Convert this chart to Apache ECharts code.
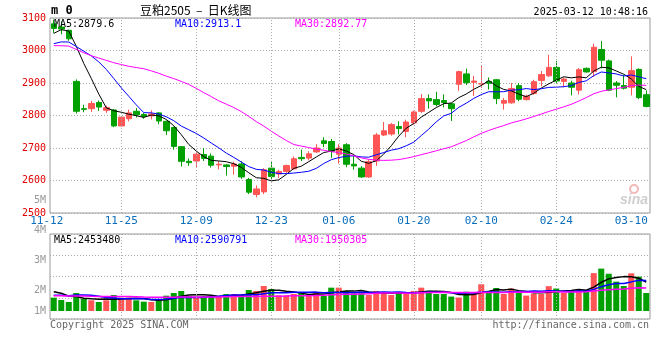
<!DOCTYPE html>
<html><head><meta charset="utf-8">
<script src="https://cdn.jsdelivr.net/npm/echarts@6/dist/echarts.min.js"></script>
<style>html,body{margin:0;padding:0;background:#fff}#c{width:660px;height:360px}</style>
</head><body><div id="c"></div>
<script>
// ---- data ----
const dates = ['11-12','11-13','11-14','11-15','11-18','11-19','11-20','11-21','11-22','11-25','11-26','11-27','11-28','11-29',
'12-02','12-03','12-04','12-05','12-06','12-09','12-10','12-11','12-12','12-13','12-16','12-17','12-18','12-19','12-20','12-23','12-24','12-25','12-26','12-27','12-30','12-31',
'01-02','01-03','01-06','01-07','01-08','01-09','01-10','01-13','01-14','01-15','01-16','01-17','01-20','01-21','01-22','01-23','01-24','01-27',
'02-05','02-06','02-07','02-10','02-11','02-12','02-13','02-14','02-17','02-18','02-19','02-20','02-21','02-24','02-25','02-26','02-27','02-28',
'03-03','03-04','03-05','03-06','03-07','03-10','03-11','03-12'];
const tickLabels = ['11-12','11-25','12-09','12-23','01-06','01-20','02-10','02-24','03-10'];
const gridDates = ['11-25','12-09','12-23','01-06','01-20','02-10','02-24'];
const opens = [3082,3072,3062,2905,2821,2821,2840,2816,2817,2768,2790,2813,2803,2799,2808,2782,2763,2704,2659,2660,
2680,2675,2648,2648,2644,2651,2603,2557,2565,2638,2620,2628,2636,2671,2669,2688,2722,2720,2681,2710,
2650,2638,2611,2660,2740,2743,2766,2751,2777,2813,2852,2849,2846,2836,2896,2928,2902,2897,2905,2910,
2838,2839,2892,2849,2868,2908,2922,2948,2905,2900,2878,2945,2935,3003,2968,2900,2892,2887,2942,2864];
const closes = [3068,3066,3036,2813,2819,2837,2826,2824,2768,2795,2808,2802,2797,2805,2783,2753,2705,2659,2655,2681,
2668,2647,2650,2643,2651,2611,2564,2574,2633,2612,2628,2646,2667,2667,2682,2700,2714,2690,2700,2650,
2645,2611,2658,2740,2753,2772,2760,2780,2811,2852,2845,2834,2840,2821,2935,2901,2906,2898,2899,2852,
2846,2883,2850,2859,2904,2926,2948,2906,2912,2887,2941,2934,3010,2970,2878,2893,2884,2938,2855,2828];
const highs = [3095,3090,3064,2911,2833,2845,2846,2830,2820,2796,2818,2823,2808,2816,2810,2785,2766,2706,2668,2685,
2700,2683,2660,2650,2658,2659,2608,2585,2638,2659,2633,2649,2674,2695,2690,2712,2733,2728,2712,2715,
2675,2644,2664,2746,2780,2777,2782,2787,2815,2866,2865,2873,2865,2839,2938,2944,2922,2953,2917,2912,
2854,2900,2900,2864,2910,2937,2987,2968,2917,2907,2946,2948,3021,3029,2972,2906,2924,2982,2945,2877];
const lows = [3054,3050,3030,2806,2810,2811,2814,2808,2764,2766,2782,2794,2790,2788,2773,2740,2695,2643,2645,2640,
2660,2640,2634,2615,2618,2605,2558,2548,2558,2605,2608,2623,2633,2660,2662,2685,2703,2670,2652,2641,
2633,2608,2608,2645,2737,2738,2742,2733,2772,2808,2821,2828,2825,2783,2876,2894,2860,2885,2880,2835,
2818,2836,2844,2846,2864,2890,2919,2900,2887,2862,2865,2932,2919,2945,2875,2856,2880,2862,2850,2825];
const volumes = [1133000,935000,765000,1530000,1020000,907000,765000,907000,1360000,1133000,1133000,907000,793000,765000,1020000,1303000,1530000,1700000,1275000,1133000,
1275000,1275000,1190000,1445000,1445000,1360000,1785000,1700000,2125000,1870000,1331000,1331000,1445000,1615000,1303000,1530000,1275000,1983000,1983000,1700000,
1501000,1501000,1360000,1700000,1615000,1360000,1501000,1530000,1700000,1983000,1717000,1444000,1444000,1226000,1145000,1635000,1553000,2270000,1717000,1951240,
1444000,1908000,1635000,1308000,1472000,1444000,2110000,1908000,1553000,1717000,1870000,1785000,3220000,3600000,3165510,2493000,2125000,3201000,2918000,1530400];
// closes / volumes of the 29 days before the first visible day (estimated from where the MA lines start)
const priorCloses = [3075,3070,3120,3125,3110,3045,3035,2985,2965,2970,2915,2910,3000,3006,3020,2930,2915,2935,3050,3060,3010,3040,2950,2965,2980,3010,3056,3048,3082];
const priorVolumes = [1200000,1400000,1100000,1300000,1500000,1200000,1000000,1300000,1400000,1200000,1300000,1500000,1100000,1200000,1400000,1300000,1200000,1300000,1400000,1300000,900000,1100000,1000000,1050000,1050000,1600000,2000000,1700000,1770000];
const maPeriods = [5, 10, 30];
const volTickLabels = [1, 2, 3, 4, 5];

// ---- helpers ----
function movingAvg(vals, prior, n) {
  const all = prior.concat(vals);
  return vals.map((_, i) => {
    let s = 0;
    for (let k = 0; k < n; k++) s += all[prior.length + i - k];
    return s / n;
  });
}
const RED = '#ff5555', GREEN = '#00a000';
const maColors = ['#000000', '#0000ff', '#ff00ff'];
const priceMA = maPeriods.map(n => movingAvg(closes, priorCloses, n));
const volMA = maPeriods.map(n => movingAvg(volumes, priorVolumes, n));
const last = a => a[a.length - 1];
const priceLegend = ['MA5:' + last(priceMA[0]).toFixed(1), 'MA10:' + last(priceMA[1]).toFixed(1), 'MA30:' + last(priceMA[2]).toFixed(2)];
const volLegend = maPeriods.map((n, k) => 'MA' + n + ':' + Math.round(last(volMA[k])));
const MONO = '"DejaVu Sans Mono", "Liberation Mono", monospace';
const dotted = {color: '#aaa', type: [1, 2], width: 1};
const legendX = [54, 175, 295];

const chart = echarts.init(document.getElementById('c'), null, {renderer: 'canvas'});
const vLines = {silent: true, symbol: ['none', 'none'], label: {show: false}, lineStyle: dotted, animation: false,
  emphasis: {disabled: true}, data: gridDates.map(d => ({xAxis: d}))};

const series = [
  {type: 'candlestick', xAxisIndex: 0, yAxisIndex: 0, barWidth: 6,
   data: dates.map((_, i) => [opens[i], closes[i], lows[i], highs[i]]),
   itemStyle: {color: RED, color0: GREEN, borderColor: RED, borderColor0: GREEN, borderWidth: 1},
   markLine: vLines, z: 3}
];
priceMA.forEach((d, k) => series.push({type: 'line', xAxisIndex: 0, yAxisIndex: 0, data: d, symbol: 'none', silent: true,
  lineStyle: {color: maColors[k], width: 1}, z: 4}));
series.push({type: 'bar', xAxisIndex: 1, yAxisIndex: 1, barWidth: 6,
  data: volumes.map((v, i) => ({value: v, itemStyle: {color: closes[i] >= opens[i] ? RED : GREEN}})),
  markLine: vLines, z: 3});
volMA.forEach((d, k) => series.push({type: 'line', xAxisIndex: 1, yAxisIndex: 1, data: d, symbol: 'none', silent: true,
  lineStyle: {color: maColors[k], width: 1.5}, z: 4}));

const texts = [];
priceLegend.forEach((t, k) => texts.push({type: 'text', left: legendX[k], top: 19, z: 10,
  style: {text: t, fill: maColors[k], font: '10px ' + MONO}}));
volLegend.forEach((t, k) => texts.push({type: 'text', left: legendX[k], top: 235, z: 10,
  style: {text: t, fill: maColors[k], font: '10px ' + MONO}}));
texts.push({type: 'text', left: 51, top: 5, style: {text: 'm 0', fill: '#000', font: 'bold 12px ' + MONO}});
texts.push({type: 'text', left: 140, top: 4, style: {text: '豆粕2505  –  日K线图', fill: '#000', font: '12px "Noto Sans CJK SC", sans-serif'}});
texts.push({type: 'text', right: 12, top: 7, style: {text: '2025-03-12 10:48:16', fill: '#000', font: '10px ' + MONO}});
texts.push({type: 'text', left: 50, top: 320, style: {text: 'Copyright 2025 SINA.COM', fill: '#666', font: '10px ' + MONO}});
texts.push({type: 'text', right: 11, top: 320, style: {text: 'http://finance.sina.com.cn', fill: '#666', font: '10px ' + MONO}});
texts.push({type: 'circle', shape: {cx: 634, cy: 189, r: 4}, style: {fill: 'none', stroke: '#f4b8b8', lineWidth: 2}, z: 1});
texts.push({type: 'text', left: 620, top: 193, z: 1, style: {text: 'sina', fill: '#cfcfcf', font: 'italic bold 14px sans-serif'}});

chart.setOption({
  animation: false,
  backgroundColor: '#fff',
  grid: [
    {left: 50, top: 18, width: 600, height: 195, show: true, borderColor: '#999', borderWidth: 1},
    {left: 50, top: 234, width: 600, height: 85, show: true, borderColor: '#999', borderWidth: 1},
    {left: 50, top: 200, width: 600, height: 120, show: false}
  ],
  xAxis: [
    {type: 'category', gridIndex: 0, data: dates, boundaryGap: true,
     axisLine: {show: false}, axisTick: {show: false}, splitLine: {show: false},
     axisLabel: {interval: (i, v) => tickLabels.includes(v), color: '#0a6ebd', fontFamily: MONO, fontSize: 11, margin: 3,
       showMinLabel: true, showMaxLabel: true, hideOverlap: false,
       formatter: v => v === tickLabels[0] ? '{f|' + v + '}' : v,
       rich: {f: {padding: [0, 14, 0, 0], color: '#0a6ebd', fontFamily: MONO, fontSize: 11}}}},
    {type: 'category', gridIndex: 1, data: dates, boundaryGap: true,
     axisLine: {show: false}, axisTick: {show: false}, axisLabel: {show: false}, splitLine: {show: false}},
    {type: 'category', gridIndex: 2, data: dates, show: false}
  ],
  yAxis: [
    {type: 'value', gridIndex: 0, min: 2500, max: 3100, interval: 100,
     axisLine: {show: false}, axisTick: {show: false},
     axisLabel: {color: '#e00000', fontFamily: MONO, fontSize: 10, margin: 4, formatter: v => String(v)},
     splitLine: {lineStyle: dotted}},
    {type: 'value', gridIndex: 1, min: -680000, max: 6542000,
     axisLine: {show: false}, axisTick: {show: false}, axisLabel: {show: false}, splitLine: {show: false}},
    {type: 'value', gridIndex: 1, min: 0, max: 4, interval: 1, position: 'left',
     axisLine: {show: false}, axisTick: {show: false}, axisLabel: {show: false}, splitLine: {lineStyle: dotted}},
    {type: 'value', gridIndex: 2, min: volTickLabels[0], max: last(volTickLabels), interval: 1,
     axisLine: {show: false}, axisTick: {show: false}, splitLine: {show: false},
     axisLabel: {color: '#999', fontFamily: MONO, fontSize: 10, margin: 4,
       formatter: v => v === volTickLabels[0] ? '{lo|' + v + 'M}' : v + 'M',
       rich: {lo: {padding: [0, 0, 18, 0], color: '#999', fontFamily: MONO, fontSize: 10}}}}
  ],
  series: series,
  graphic: texts
});
</script></body></html>
